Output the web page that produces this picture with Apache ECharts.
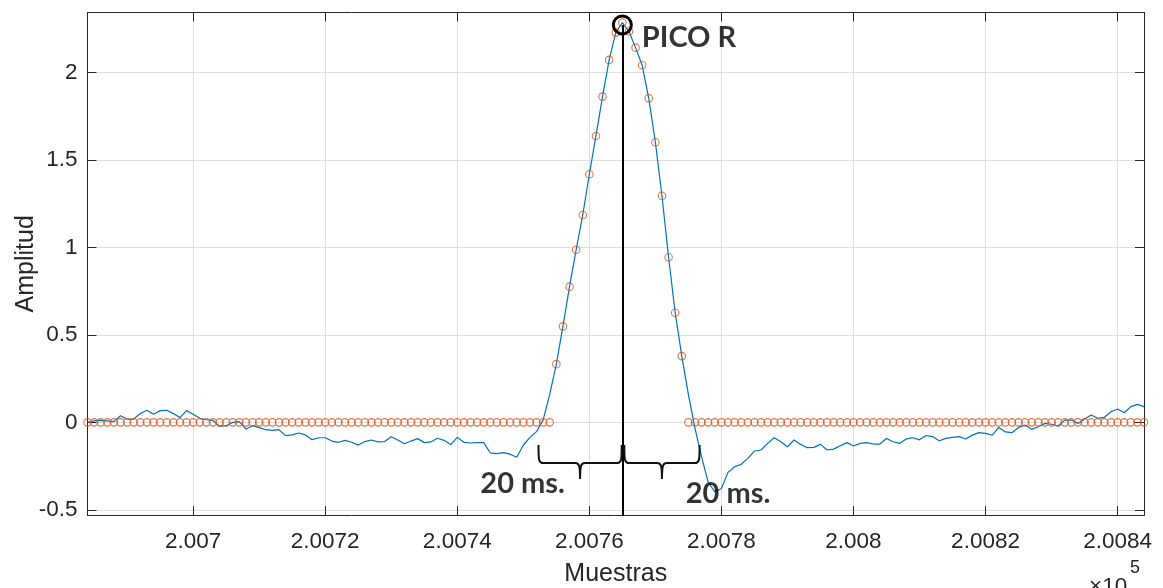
<!DOCTYPE html>
<html>
<head>
<meta charset="utf-8">
<title>Pico R</title>
<script src="https://cdn.jsdelivr.net/npm/echarts@6/dist/echarts.min.js"></script>
<style>
  html, body { margin: 0; padding: 0; background: #fff; }
  #chart { width: 1163px; height: 588px; }
</style>
</head>
<body>
<div id="chart"></div>
<script>
// primera muestra del tramo dibujado (una muestra por punto)
var firstSample = 200684;

// señal ECG (linea azul)
var ecgValues = [
  0.000, 0.008, 0.011, 0.008, 0.004, 0.038, 0.019, 0.019, 0.051, 0.069,
  0.046, 0.067, 0.069, 0.050, 0.027, 0.067, 0.046, 0.023, 0.015, 0.011,
  -0.023, -0.019, 0.000, 0.004, -0.038, -0.019, -0.030, -0.042, -0.046, -0.042,
  -0.076, -0.072, -0.061, -0.072, -0.099, -0.088, -0.088, -0.107, -0.114, -0.103,
  -0.114, -0.130, -0.110, -0.101, -0.112, -0.110, -0.082, -0.101, -0.122, -0.107,
  -0.093, -0.116, -0.112, -0.091, -0.103, -0.127, -0.086, -0.114, -0.118, -0.116,
  -0.116, -0.175, -0.179, -0.173, -0.182, -0.200, -0.131, -0.086, -0.053, 0.013,
  0.160, 0.333, 0.549, 0.776, 0.987, 1.186, 1.419, 1.638, 1.863, 2.073,
  2.229, 2.286, 2.235, 2.143, 2.042, 1.853, 1.602, 1.296, 0.944, 0.627,
  0.379, 0.160, -0.034, -0.197, -0.343, -0.397, -0.378, -0.286, -0.254, -0.240,
  -0.206, -0.164, -0.158, -0.120, -0.088, -0.111, -0.140, -0.101, -0.126, -0.145,
  -0.143, -0.126, -0.158, -0.153, -0.134, -0.116, -0.135, -0.120, -0.116, -0.124,
  -0.124, -0.092, -0.111, -0.120, -0.095, -0.088, -0.100, -0.075, -0.082, -0.105,
  -0.092, -0.086, -0.082, -0.095, -0.073, -0.059, -0.063, -0.074, -0.029, -0.055,
  -0.059, -0.029, -0.015, -0.040, -0.025, -0.006, -0.011, -0.021, 0.013, 0.013,
  -0.006, 0.019, 0.042, 0.023, 0.029, 0.061, 0.076, 0.055, 0.090, 0.103,
  0.090
];

// ventana del QRS (circulos naranjas)
var qrsWindow = [
  0, 0, 0, 0, 0, 0, 0, 0, 0, 0,
  0, 0, 0, 0, 0, 0, 0, 0, 0, 0,
  0, 0, 0, 0, 0, 0, 0, 0, 0, 0,
  0, 0, 0, 0, 0, 0, 0, 0, 0, 0,
  0, 0, 0, 0, 0, 0, 0, 0, 0, 0,
  0, 0, 0, 0, 0, 0, 0, 0, 0, 0,
  0, 0, 0, 0, 0, 0, 0, 0, 0, 0,
  0, 0.333, 0.549, 0.776, 0.987, 1.186, 1.419, 1.638, 1.863, 2.073,
  2.229, 2.286, 2.235, 2.143, 2.042, 1.853, 1.602, 1.296, 0.944, 0.627,
  0.379, 0, 0, 0, 0, 0, 0, 0, 0, 0,
  0, 0, 0, 0, 0, 0, 0, 0, 0, 0,
  0, 0, 0, 0, 0, 0, 0, 0, 0, 0,
  0, 0, 0, 0, 0, 0, 0, 0, 0, 0,
  0, 0, 0, 0, 0, 0, 0, 0, 0, 0,
  0, 0, 0, 0, 0, 0, 0, 0, 0, 0,
  0, 0, 0, 0, 0, 0, 0, 0, 0, 0,
  0
];

// marcas de los ejes
var xTickValues = [200700, 200720, 200740, 200760, 200780, 200800, 200820, 200840];
var yTickValues = [-0.5, 0, 0.5, 1, 1.5, 2];
var xRange = [200684, 200844];
var yRange = [-0.531, 2.344];

// anotaciones
var peakSample = 200765;
var peakLevel = 2.273;
var braceStarts = [200752.3, 200765.3];
var braceEnds = [200764.9, 200776.7];
var braceLevel = -0.233;
var noteTexts = ['PICO R', '20 ms.', '20 ms.'];
var noteX = [200775.1, 200749.9, 200781.0];
var noteY = [2.199, -0.353, -0.41];

var axisColor = '#262626';
var axisFont = 'Liberation Sans, Arial, sans-serif';

function toPairs(values) {
  return values.map(function (v, i) { return [firstSample + i, v]; });
}

function inList(list, v) {
  for (var i = 0; i < list.length; i++) {
    if (Math.abs(list[i] - v) < 1e-6) return true;
  }
  return false;
}

var chart = echarts.init(document.getElementById('chart'), null, { renderer: 'canvas' });

var baseTick = { show: true, inside: true, length: 9, lineStyle: { color: axisColor, width: 1 } };
var baseLine = { show: true, onZero: false, lineStyle: { color: axisColor, width: 1 } };

var option = {
  backgroundColor: '#fff',
  animation: false,
  grid: { left: 87.5, right: 19, top: 12.5, bottom: 72.8, containLabel: false, outerBoundsMode: 'none' },
  xAxis: [{
    type: 'value',
    min: xRange[0],
    max: xRange[1],
    splitNumber: 8,
    axisLine: baseLine,
    axisTick: baseTick,
    splitLine: { show: true, lineStyle: { color: '#dfdfdf', width: 1 } },
    axisLabel: {
      color: axisColor, fontSize: 22.5, fontFamily: axisFont, margin: 15,
      formatter: function (v) {
        return inList(xTickValues, v) ? String(parseFloat((v / 1e5).toFixed(6))) : '';
      }
    },
    name: 'Muestras',
    nameLocation: 'middle',
    nameGap: 46,
    nameMoveOverlap: false,
    nameTextStyle: { color: axisColor, fontSize: 25, fontFamily: axisFont }
  }, {
    type: 'value',
    position: 'top',
    min: xRange[0],
    max: xRange[1],
    splitNumber: 8,
    axisLine: baseLine,
    axisTick: baseTick,
    splitLine: { show: false },
    axisLabel: { show: false }
  }],
  yAxis: [{
    type: 'value',
    min: yRange[0],
    max: yRange[1],
    splitNumber: 6,
    axisLine: baseLine,
    axisTick: baseTick,
    splitLine: { show: true, lineStyle: { color: '#dfdfdf', width: 1 } },
    axisLabel: {
      color: axisColor, fontSize: 22.5, fontFamily: axisFont, margin: 10,
      formatter: function (v) {
        return inList(yTickValues, v) ? String(parseFloat(v.toFixed(3))) : '';
      }
    },
    name: 'Amplitud',
    nameLocation: 'middle',
    nameGap: 49,
    nameMoveOverlap: false,
    nameTextStyle: { color: axisColor, fontSize: 25, fontFamily: axisFont }
  }, {
    type: 'value',
    position: 'right',
    min: yRange[0],
    max: yRange[1],
    splitNumber: 6,
    axisLine: baseLine,
    axisTick: baseTick,
    splitLine: { show: false },
    axisLabel: { show: false }
  }],
  series: [{
    name: 'ECG',
    type: 'line',
    data: toPairs(ecgValues),
    showSymbol: false,
    symbol: 'none',
    lineStyle: { color: '#0072BD', width: 1.2 },
    z: 3,
    markLine: {
      silent: true,
      symbol: ['none', 'none'],
      label: { show: false },
      lineStyle: { color: '#000', width: 2, type: 'solid' },
      data: [[{ coord: [peakSample, peakLevel] }, { coord: [peakSample, yRange[0]] }]]
    },
    markPoint: {
      silent: true,
      symbol: 'circle',
      symbolSize: 18,
      itemStyle: { color: 'rgba(0,0,0,0)', borderColor: '#000', borderWidth: 3 },
      label: { show: false },
      data: [{ coord: [peakSample, peakLevel] }]
    }
  }, {
    name: 'QRS',
    type: 'scatter',
    data: toPairs(qrsWindow),
    symbol: 'circle',
    symbolSize: 7.5,
    itemStyle: { color: 'rgba(0,0,0,0)', borderColor: '#D95319', borderWidth: 1.1 },
    z: 4
  }, {
    name: 'llaves',
    type: 'custom',
    silent: true,
    data: braceStarts.map(function (s, i) { return [s, braceEnds[i], braceLevel]; }),
    renderItem: function (params, api) {
      var a = api.coord([api.value(0), api.value(2)]);
      var b = api.coord([api.value(1), api.value(2)]);
      var y = a[1], x0 = a[0], x1 = b[0], xm = (x0 + x1) / 2;
      var h = 18, t = 16;
      var d = 'M' + x0 + ' ' + (y - h) +
        ' C' + x0 + ' ' + (y - 3) + ' ' + x0 + ' ' + y + ' ' + (x0 + 5) + ' ' + y +
        ' L' + (xm - 5) + ' ' + y +
        ' C' + (xm - 1) + ' ' + y + ' ' + xm + ' ' + (y + 2) + ' ' + xm + ' ' + (y + t) +
        ' C' + xm + ' ' + (y + 2) + ' ' + (xm + 1) + ' ' + y + ' ' + (xm + 5) + ' ' + y +
        ' L' + (x1 - 5) + ' ' + y +
        ' C' + x1 + ' ' + y + ' ' + x1 + ' ' + (y - 3) + ' ' + x1 + ' ' + (y - h);
      return {
        type: 'path',
        shape: { pathData: d },
        style: { fill: 'none', stroke: '#111', lineWidth: 2 }
      };
    },
    z: 5
  }, {
    name: 'notas',
    type: 'scatter',
    silent: true,
    symbol: 'circle',
    symbolSize: 1,
    itemStyle: { color: 'rgba(0,0,0,0)' },
    data: noteTexts.map(function (t, i) { return { name: t, value: [noteX[i], noteY[i]] }; }),
    label: {
      show: true,
      position: 'inside',
      formatter: '{b}',
      color: '#000',
      fontSize: 29,
      fontWeight: 'bold',
      fontFamily: 'Lato, Open Sans, sans-serif'
    },
    z: 6
  }],
  graphic: [{
    type: 'text',
    left: 1089,
    top: 575,
    style: { text: '×10', fill: axisColor, fontSize: 22.5, fontFamily: axisFont }
  }, {
    type: 'text',
    left: 1130,
    top: 559,
    style: { text: '5', fill: axisColor, fontSize: 18, fontFamily: axisFont }
  }]
};

chart.setOption(option);
</script>
</body>
</html>
